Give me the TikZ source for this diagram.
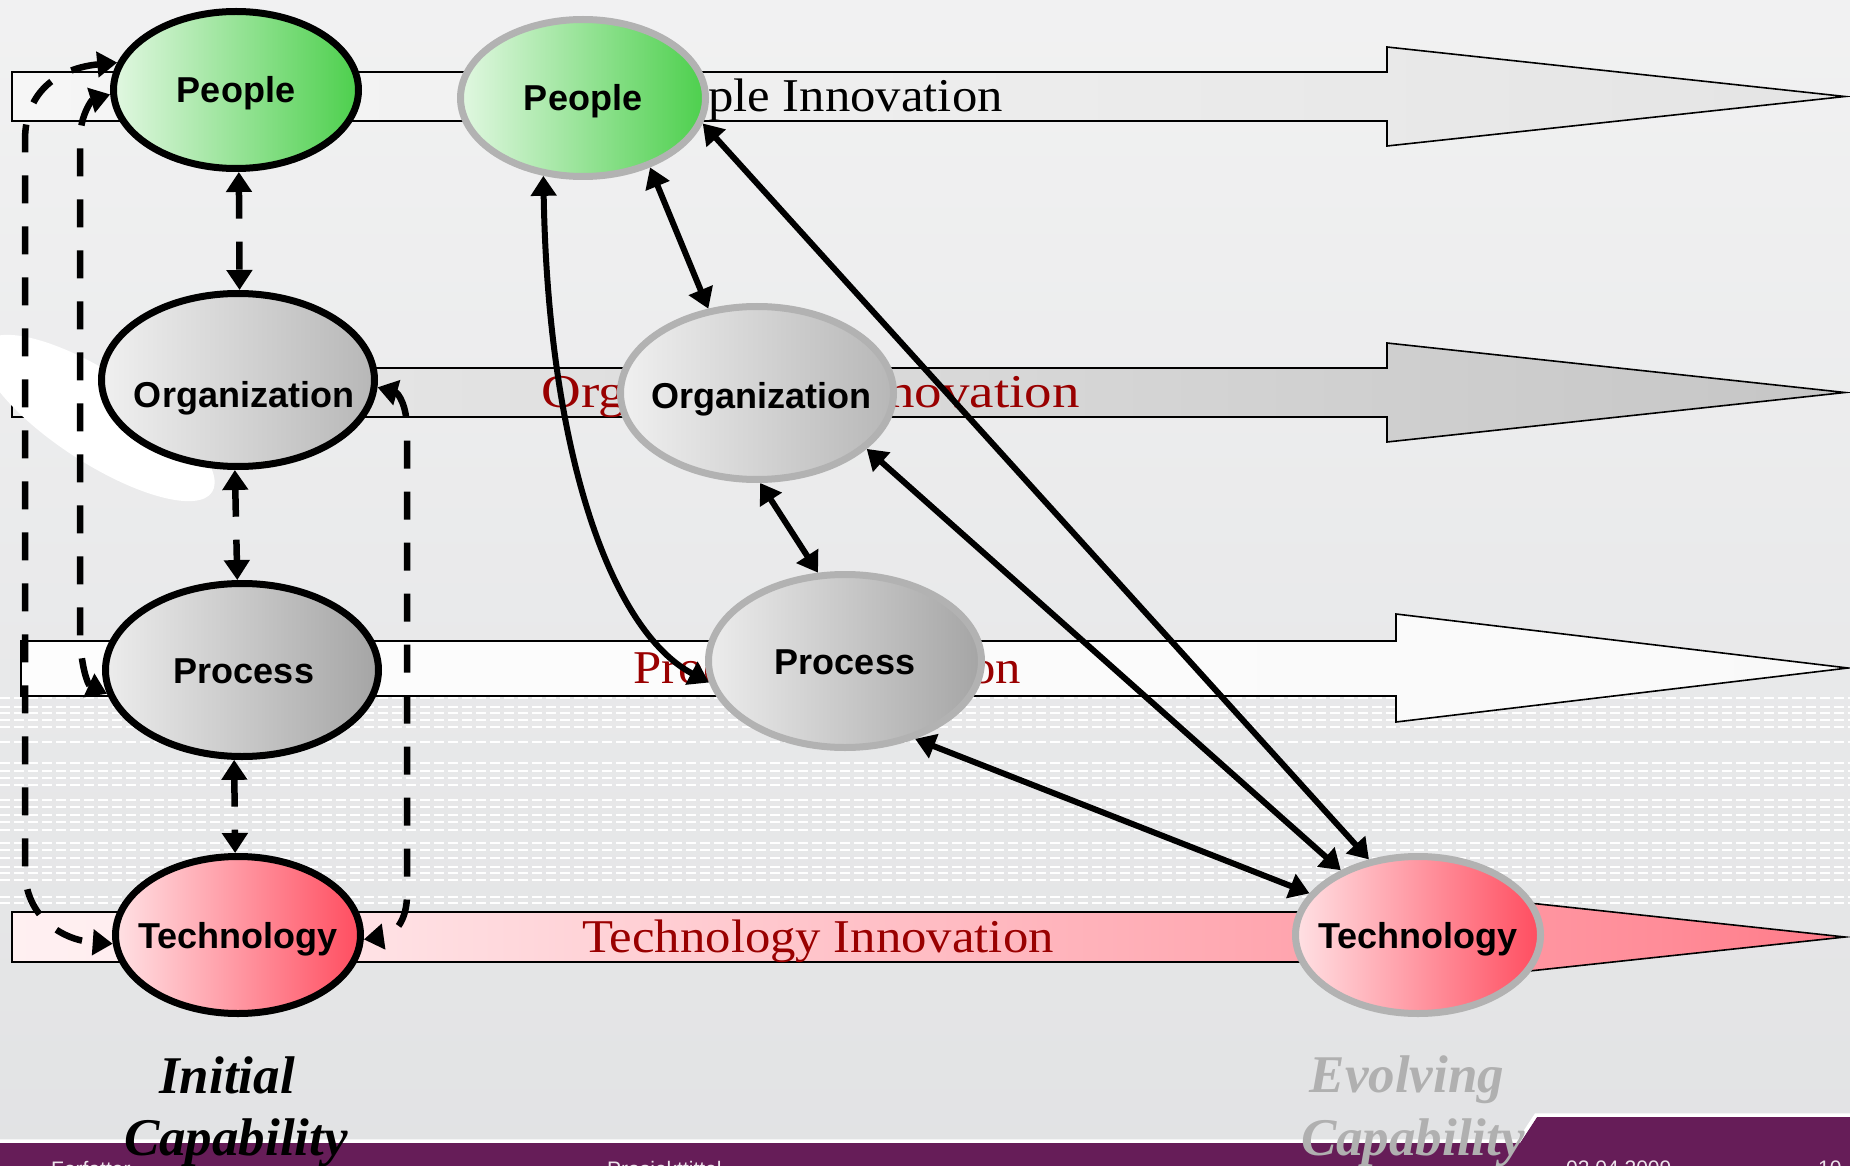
\documentclass[tikz,border=0pt]{standalone}
\usepackage{fontspec}
\setmainfont{Liberation Serif}
\setsansfont{Liberation Sans}
\usetikzlibrary{shapes.geometric,arrows.meta}

\definecolor{bgtop}{RGB}{249,249,249}
\definecolor{bgbot}{RGB}{218,219,221}
\definecolor{pplgreen}{RGB}{26,194,26}
\definecolor{orggray}{RGB}{160,160,160}
\definecolor{procgray}{RGB}{136,136,136}
\definecolor{techred}{RGB}{255,26,50}
\definecolor{rimgray}{RGB}{178,178,178}
\definecolor{bandred}{RGB}{153,0,0}
\definecolor{footpurple}{RGB}{102,29,88}
\definecolor{evolgray}{RGB}{176,176,176}
\colorlet{pplbandend}{black!14}
\colorlet{orgbandend}{black!30}
\colorlet{procbandend}{black!3}
\colorlet{techbandlow}{techred!8}
\colorlet{techbandmid}{techred!50}

\pgfdeclareverticalshading{bgshade}{100bp}{color(0bp)=(bgbot); color(100bp)=(bgtop)}
\pgfdeclarehorizontalshading{pplshade}{100bp}{color(0bp)=(white); color(15bp)=(white); color(92bp)=(pplgreen); color(100bp)=(pplgreen)}
\pgfdeclarehorizontalshading{orgshade}{100bp}{color(0bp)=(white); color(12bp)=(white); color(95bp)=(orggray); color(100bp)=(orggray)}
\pgfdeclarehorizontalshading{procshade}{100bp}{color(0bp)=(white); color(12bp)=(white); color(95bp)=(procgray); color(100bp)=(procgray)}
\pgfdeclarehorizontalshading{techshade}{100bp}{color(0bp)=(white); color(15bp)=(white); color(92bp)=(techred); color(100bp)=(techred)}
\pgfdeclarehorizontalshading{pplband}{100bp}{color(0bp)=(white); color(100bp)=(pplbandend)}
\pgfdeclarehorizontalshading{orgband}{100bp}{color(0bp)=(white); color(100bp)=(orgbandend)}
\pgfdeclarehorizontalshading{procband}{100bp}{color(0bp)=(white); color(100bp)=(procbandend)}
\pgfdeclarehorizontalshading{techband}{100bp}{color(0bp)=(white); color(30bp)=(techbandlow); color(70bp)=(techbandmid); color(100bp)=(techred)}

\begin{document}
\begin{tikzpicture}[x=1pt,y=-1pt,>={Triangle[length=20pt,width=25pt]},
    ringnode/.style={ellipse,inner sep=0pt,line width=7pt,shade},
    oldnode/.style={ringnode,draw=black},
    newnode/.style={ringnode,draw=rimgray},
    smallnode/.style={minimum width=245pt,minimum height=157pt},
    bignode/.style={minimum width=273pt,minimum height=173pt},
    nodetxt/.style={font=\sffamily\bfseries\fontsize{36}{40}\selectfont,text height=26pt,text depth=0pt,inner sep=0pt},
    bandtxt/.style={font=\fontsize{47}{50}\selectfont,inner sep=0pt,anchor=base east},
    band/.style={draw=black,line width=1.6pt},
    dashlink/.style={line width=6.5pt,dash pattern=on 28pt off 23pt,<->},
    link/.style={line width=6pt,<->},
    capt/.style={font=\bfseries\itshape\fontsize{53}{60}\selectfont,inner sep=0pt,anchor=base},
    foot/.style={font=\sffamily\fontsize{21}{24}\selectfont,text=footpurple!12,inner sep=0pt,anchor=north west}]
    \useasboundingbox (0,0) rectangle (1850,1166);
    \clip (0,0) rectangle (1850,1166);
    % background
    \shade[shading=bgshade] (0,0) rectangle (1850,1166);
    \foreach \ly in {698,707,713,720,727,742,763,771,778,785,800,807,815,822,830,843,850,858,867,873,880,897,903}
        \draw[white,line width=1.5pt,dash pattern=on 10pt off 4pt] (0,\ly) -- (1850,\ly);
    % innovation bands
    \shadedraw[band,shading=pplband] (12,72) -- (1387,72) -- (1387,47) -- (1845,96.5) -- (1387,146) -- (1387,121) -- (12,121) -- cycle;
    \shadedraw[band,shading=orgband] (12,368) -- (1387,368) -- (1387,343) -- (1845,392.5) -- (1387,442) -- (1387,417) -- (12,417) -- cycle;
    \shadedraw[band,shading=procband] (21,641) -- (1396,641) -- (1396,614) -- (1848,668) -- (1396,722) -- (1396,696) -- (21,696) -- cycle;
    \shadedraw[band,shading=techband] (12,912) -- (1390,912) -- (1390,888) -- (1845,937) -- (1390,986) -- (1390,962) -- (12,962) -- cycle;
    \node[bandtxt] (pplInno) at (1003,112) {\scalebox{1.08}[1]{People Innovation}};
    \node[bandtxt,text=bandred] (orgInno) at (1080,407) {\scalebox{1.17}[1]{Organization Innovation}};
    \node[bandtxt,text=bandred] (procInno) at (1021,683) {\scalebox{1.08}[1]{Process Innovation}};
    \node[bandtxt,text=bandred] (techInno) at (1054,952) {\scalebox{1.08}[1]{Technology Innovation}};
    \fill[white,rotate around={-33:(98,418)}] (98,418) ellipse [x radius=136, y radius=45];
    % initial capability
    \node[oldnode,smallnode,shading=pplshade,label={[nodetxt]center:People}] (peopleA) at (236,90) {};
    \node[oldnode,bignode,shading=orgshade,label={[nodetxt,xshift=6pt,yshift=-14pt]center:Organization}] (orgA) at (238,380) {};
    \node[oldnode,bignode,shading=procshade,label={[nodetxt,xshift=2pt]center:Process}] (procA) at (242,670) {};
    \node[oldnode,smallnode,shading=techshade,label={[nodetxt]center:Technology}] (techA) at (238,935) {};
    % evolving capability
    \node[newnode,smallnode,shading=pplshade,label={[nodetxt]center:People}] (pplB) at (583,98) {};
    \node[newnode,bignode,shading=orgshade,label={[nodetxt,xshift=4pt,yshift=-2pt]center:Organization}] (orgB) at (757,393) {};
    \node[newnode,bignode,shading=procshade,label={[nodetxt]center:Process}] (procB) at (845,661) {};
    \node[newnode,smallnode,shading=techshade,label={[nodetxt]center:Technology}] (techB) at (1418,935) {};
    % links
    \draw[dashlink] (peopleA.-88) -- (orgA.89);
    \draw[dashlink] (orgA.-92) -- (procA.93);
    \draw[dashlink] (procA.-95) -- (techA.92);
    \draw[dashlink] (peopleA.167) .. controls (60,68) and (25,90) .. (25,140) -- (25,870) .. controls (25,915) and (60,940) .. (techA.184);
    \draw[dashlink] (peopleA.182) .. controls (92,100) and (80,115) .. (80,140) -- (80,630) .. controls (80,665) and (88,685) .. (procA.190);
    \draw[dashlink] (orgA.-3) .. controls (398,393) and (407,405) .. (407,430) -- (407,895) .. controls (407,920) and (395,935) .. (techA.-2);
    \draw[link] (pplB.243) .. controls (548,450) and (610,630) .. (procB.189);
    \draw[link] (pplB.-46) -- (orgB.120);
    \draw[link] (pplB.-12) -- (techB.123);
    \draw[link] (orgB.-27) -- (techB.140);
    \draw[link] (orgB.-88) -- (procB.107);
    \draw[link] (procB.-48) -- (techB.159);
    % footer
    \fill[footpurple] (0,1143) -- (1520,1143) -- (1537,1117) -- (1850,1117) -- (1850,1166) -- (0,1166) -- cycle;
    \draw[white,line width=3.5pt] (0,1141) -- (1519,1141) -- (1536,1115) -- (1850,1115);
    \node[foot] (author) at (51,1161) {Forfatter};
    \node[foot] (project) at (607,1161) {Prosjekttittel};
    \node[foot] (date) at (1566,1161) {02.04.2009};
    \node[foot] (page) at (1818,1161) {10};
    % captions
    \node[capt] (initTop) at (227,1093) {Initial};
    \node[capt] (initBot) at (236,1155) {Capability};
    \node[capt,text=evolgray] (evolTop) at (1407,1092) {Evolving};
    \node[capt,text=evolgray] (evolBot) at (1413,1155) {Capability};
\end{tikzpicture}
\end{document}
